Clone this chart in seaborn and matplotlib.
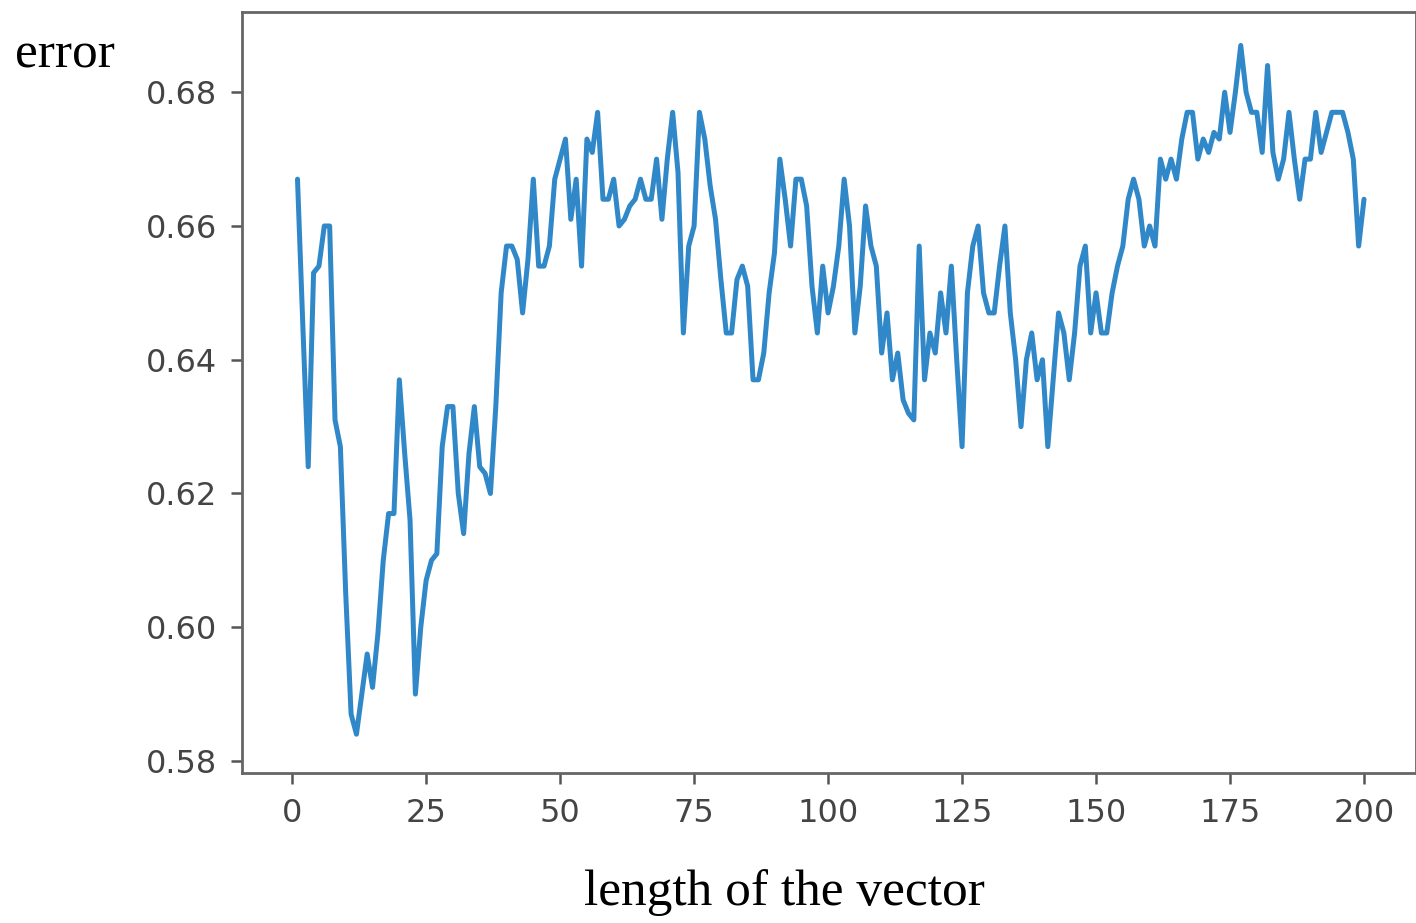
import seaborn as sns
import matplotlib.pyplot as plt
import numpy as np
import pandas as pd

# error for each vector length (1..200)
lengths = np.arange(1, 201)
errors = [
    0.667, 0.645, 0.624, 0.653, 0.654, 0.660, 0.660, 0.631, 0.627, 0.605,
    0.587, 0.584, 0.590, 0.596, 0.591, 0.599, 0.610, 0.617, 0.617, 0.637,
    0.626, 0.616, 0.590, 0.600, 0.607, 0.610, 0.611, 0.627, 0.633, 0.633,
    0.620, 0.614, 0.626, 0.633, 0.624, 0.623, 0.620, 0.633, 0.650, 0.657,
    0.657, 0.655, 0.647, 0.655, 0.667, 0.654, 0.654, 0.657, 0.667, 0.670,
    0.673, 0.661, 0.667, 0.654, 0.673, 0.671, 0.677, 0.664, 0.664, 0.667,
    0.660, 0.661, 0.663, 0.664, 0.667, 0.664, 0.664, 0.670, 0.661, 0.670,
    0.677, 0.668, 0.644, 0.657, 0.660, 0.677, 0.673, 0.666, 0.661, 0.652,
    0.644, 0.644, 0.652, 0.654, 0.651, 0.637, 0.637, 0.641, 0.650, 0.656,
    0.670, 0.664, 0.657, 0.667, 0.667, 0.663, 0.651, 0.644, 0.654, 0.647,
    0.651, 0.657, 0.667, 0.660, 0.644, 0.651, 0.663, 0.657, 0.654, 0.641,
    0.647, 0.637, 0.641, 0.634, 0.632, 0.631, 0.657, 0.637, 0.644, 0.641,
    0.650, 0.644, 0.654, 0.640, 0.627, 0.650, 0.657, 0.660, 0.650, 0.647,
    0.647, 0.654, 0.660, 0.647, 0.640, 0.630, 0.640, 0.644, 0.637, 0.640,
    0.627, 0.637, 0.647, 0.644, 0.637, 0.644, 0.654, 0.657, 0.644, 0.650,
    0.644, 0.644, 0.650, 0.654, 0.657, 0.664, 0.667, 0.664, 0.657, 0.660,
    0.657, 0.670, 0.667, 0.670, 0.667, 0.673, 0.677, 0.677, 0.670, 0.673,
    0.671, 0.674, 0.673, 0.680, 0.674, 0.680, 0.687, 0.680, 0.677, 0.677,
    0.671, 0.684, 0.671, 0.667, 0.670, 0.677, 0.670, 0.664, 0.670, 0.670,
    0.677, 0.671, 0.674, 0.677, 0.677, 0.677, 0.674, 0.670, 0.657, 0.664,
]
x_ticks = [0, 25, 50, 75, 100, 125, 150, 175, 200]
y_ticks = [0.58, 0.60, 0.62, 0.64, 0.66, 0.68]

df = pd.DataFrame({'length': lengths, 'error': errors})

sns.set_style("ticks")
plt.rcParams['font.family'] = ['DejaVu Sans']

fig = plt.figure(figsize=(14.16, 9.23), dpi=100)
ax = fig.add_axes([0.171, 0.1625, 0.829, 0.8245])

sns.lineplot(x='length', y='error', data=df, color='#3188c8', linewidth=3.6, ax=ax)

ax.set_xlim(-9.33, 209.7)
ax.set_ylim(0.5782, 0.692)
ax.set_xticks(x_ticks)
ax.set_xticklabels([str(t) for t in x_ticks])
ax.set_yticks(y_ticks)
ax.set_yticklabels([f"{t:.2f}" for t in y_ticks])
ax.tick_params(labelsize=23, colors='#555555', labelcolor='#444444',
               length=8, width=1.8, pad=10)
ax.set_xlabel('')
ax.set_ylabel('')
for side in ['left', 'right', 'top', 'bottom']:
    ax.spines[side].set_visible(True)
    ax.spines[side].set_color('#666666')
    ax.spines[side].set_linewidth(2)

fig.text(0.0106, 0.940, 'error', family='Liberation Serif', fontsize=37,
         ha='left', va='center', color='black')
fig.text(0.554, 0.0325, 'length of the vector', family='Liberation Serif',
         fontsize=37, ha='center', va='center', color='black')

fig.savefig('out.png', dpi=100)
